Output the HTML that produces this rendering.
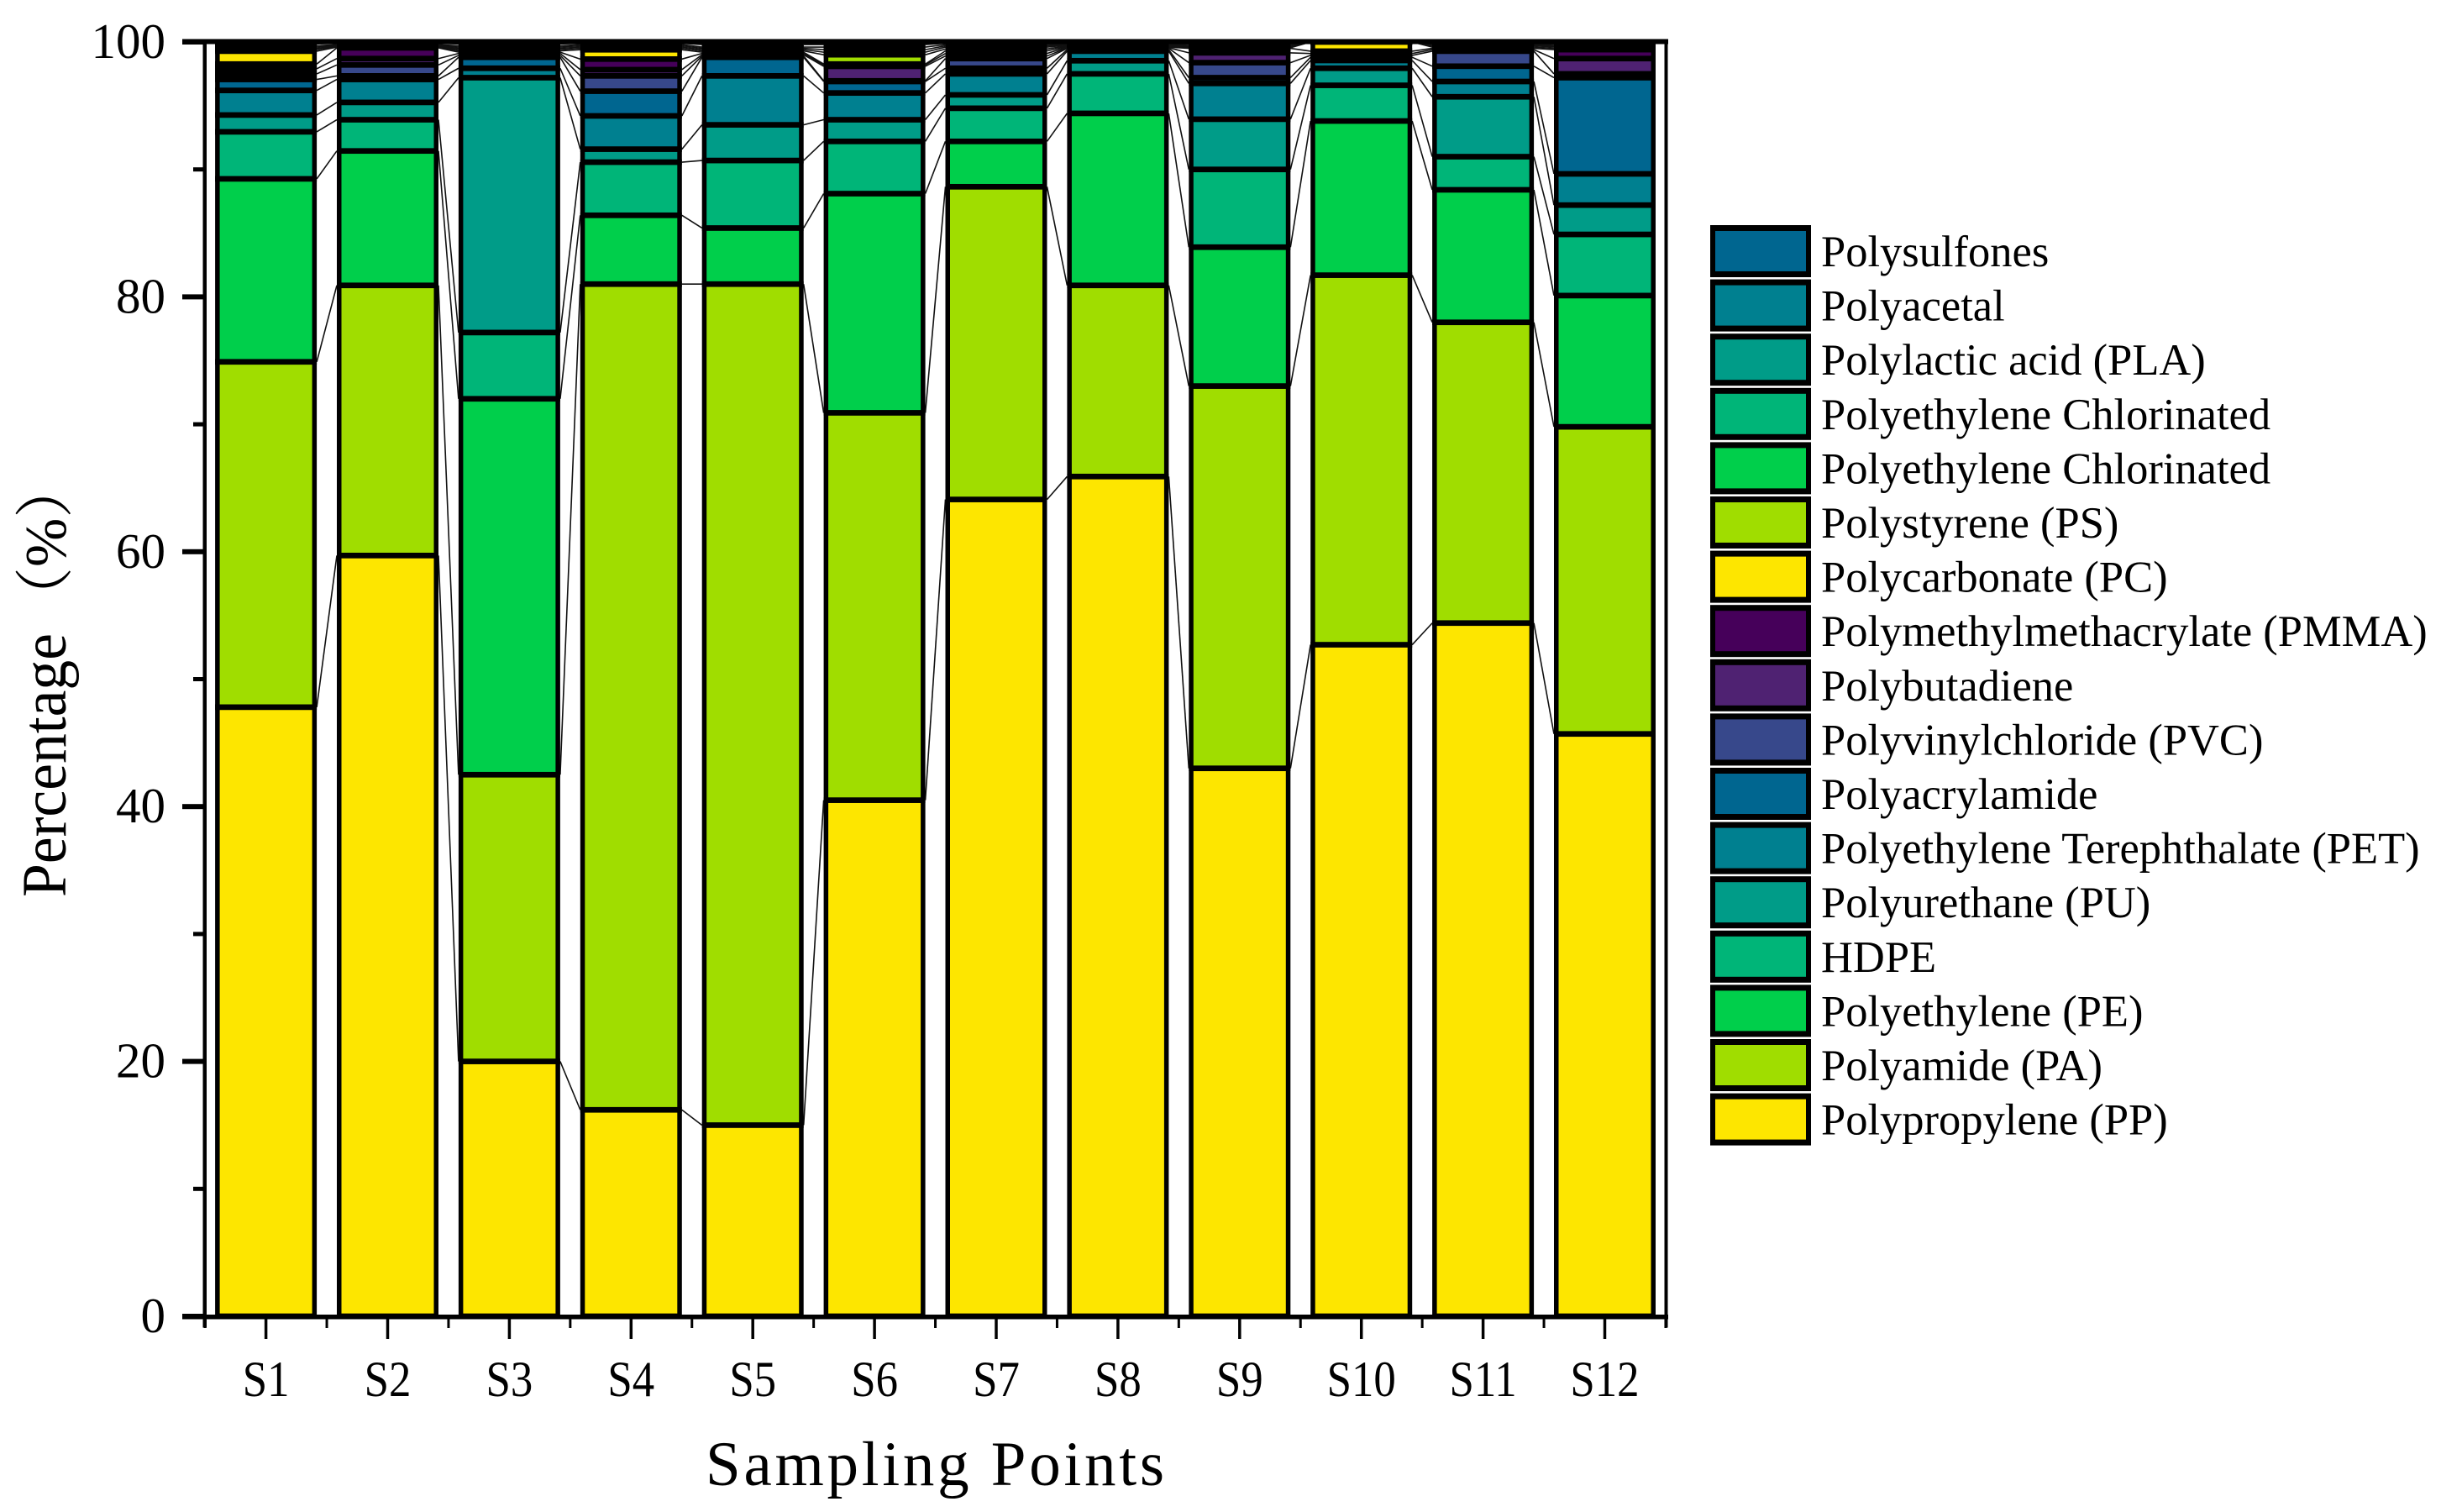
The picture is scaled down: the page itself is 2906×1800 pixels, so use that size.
<!DOCTYPE html>
<html lang="en">
<head>
<meta charset="utf-8">
<title>Polymer composition by sampling point</title>
<style>
html,body{margin:0;padding:0;background:#fff;width:2906px;height:1800px;overflow:hidden}
svg{display:block}
text{font-family:"Liberation Serif","Noto Serif CJK SC",serif;fill:#000}
</style>
</head>
<body>
<svg id="chart" xmlns="http://www.w3.org/2000/svg" width="2906" height="1800" viewBox="0 0 2906 1800">
  <g id="connectors"></g>
  <g id="bars"></g>
  <g id="axes"></g>
  <g id="legend"></g>
  <text x="840" y="1768" font-size="75" textLength="546" lengthAdjust="spacing">Sampling Points</text>
  <text transform="translate(78,1068) rotate(-90)" font-size="75" textLength="314" lengthAdjust="spacingAndGlyphs">Percentage</text>
  <text transform="translate(78,745) rotate(-90)" font-size="70">（%）</text>
</svg>
<script>
const categories = ["S1","S2","S3","S4","S5","S6","S7","S8","S9","S10","S11","S12"];
const yTickLabels = [0,20,40,60,80,100];
const yMinorTicks = [10,30,50,70,90];
const seriesNames = ["Polypropylene (PP)","Polyamide (PA)","Polyethylene (PE)","HDPE","Polyurethane (PU)","Polyethylene Terephthalate (PET)","Polyacrylamide","Polyvinylchloride (PVC)","Polybutadiene","Polymethylmethacrylate (PMMA)","Polycarbonate (PC)","Polystyrene (PS)","Polyethylene Chlorinated","Polyethylene Chlorinated","Polylactic acid (PLA)","Polyacetal","Polysulfones"];
const seriesColors = ["#fde600","#a0dd00","#00cf4b","#00b578","#009c88","#008090","#006690","#37488b","#4f2272","#46005a","#fde600","#a0dd00","#00cf4b","#00b578","#009c88","#008090","#006690"];
const pp   = [47.8,59.7,20,16.2,15,40.5,64.1,65.9,43,52.7,54.4,45.7];
const pa   = [27.1,21.2,22.5,64.8,66,30.4,24.54,15,30,29,23.6,24.1];
const pe   = [14.36,10.55,29.5,5.4,4.4,17.2,3.56,13.5,10.9,12.1,10.4,10.3];
const hdpe = [3.69,2.45,5.2,4.17,5.3,4.1,2.6,3.1,6.1,2.8,2.6,4.8];
const pu   = [1.32,1.36,20,1.02,2.8,1.7,1.05,1.03,3.94,1.34,4.7,2.3];
const pet  = [1.93,1.8,0.74,2.61,3.84,2.1,1.65,0.75,2.81,0.61,1.2,2.45];
const acrylamide = [0.86,0.28,0.86,1.94,1.46,0.9,0.44,0.12,0.45,0.25,1.2,7.55];
const pvc  = [0.44,0.86,0.15,1.2,0.1,0.05,0.76,0.1,1.18,0.15,1.18,0.3];
const butadiene = [0.4,0.5,0.15,0.49,0.1,1.14,0.2,0.05,0.77,0.15,0.12,1.2];
const pmma = [0.37,0.84,0.1,0.83,0.1,0.11,0.2,0.05,0.35,0.18,0.1,0.7];
const pc   = [1.01,0.06,0.1,0.73,0.1,0.07,0.2,0.05,0.05,0.72,0.1,0.1];
const ps   = [0.12,0.05,0.1,0.11,0.1,0.73,0.15,0.05,0.05,0,0.1,0.1];
const pecA = [0.1,0.05,0.1,0.1,0.1,0.2,0.15,0.05,0.05,0,0.05,0.05];
const pecB = [0.1,0.05,0.1,0.1,0.1,0.2,0.1,0.05,0.05,0,0.05,0.05];
const pla  = [0.1,0.05,0.1,0.1,0.1,0.2,0.1,0.05,0.1,0,0.05,0.1];
const polyacetal = [0.15,0.1,0.15,0.1,0.2,0.2,0.1,0.05,0.1,0,0.05,0.1];
const polysulfones = [0.15,0.1,0.15,0.1,0.2,0.2,0.1,0.1,0.1,0,0.1,0.1];
const seriesValues = [pp,pa,pe,hdpe,pu,pet,acrylamide,pvc,butadiene,pmma,pc,ps,pecA,pecB,pla,polyacetal,polysulfones];

const NS = "http://www.w3.org/2000/svg";
const PX0 = 316.6, PXSTEP = 144.9, PY0 = 1567, PYUNIT = 15.17;
const HALF_FILL = 55, HALF_OUT = 60.5, EDGE_Y = 3.35;
function xAxis(i){ return PX0 + PXSTEP * i; }
function yAxis(v){ return PY0 - PYUNIT * v; }
function mk(tag, attrs, parent){
  const el = document.createElementNS(NS, tag);
  for (const k in attrs) el.setAttribute(k, attrs[k]);
  parent.appendChild(el);
  return el;
}
const barsG = document.getElementById("bars");
const connG = document.getElementById("connectors");
const axesG = document.getElementById("axes");
const legendG = document.getElementById("legend");

const cumulative = categories.map((c, i) => {
  let sum = 0;
  return seriesValues.map(s => (sum += s[i]));
});

/* connectors between neighbouring bars */
for (let i = 0; i < categories.length - 1; i++) {
  seriesValues.forEach((s, k) => {
    const ln = mk("line", {x1: xAxis(i) + HALF_OUT, x2: xAxis(i + 1) - HALF_OUT, y1: yAxis(cumulative[i][k]), y2: yAxis(cumulative[i + 1][k]), stroke: "#111", "stroke-width": 1.6}, connG);
    
    
  });
}

/* stacked bars: black outline layer, then colour layer */
categories.forEach((c, i) => {
  const g = mk("g", {}, barsG);
  
  
  seriesValues.forEach((s, k) => {
    const top = yAxis(cumulative[i][k]);
    const bot = yAxis(cumulative[i][k] - s[i]);
    const outline = mk("rect", {x: xAxis(i) - HALF_OUT, width: HALF_OUT * 2, y: top - EDGE_Y, height: bot - top + EDGE_Y * 2, fill: "#000"}, g);
    
    
  });
  seriesValues.forEach((s, k) => {
    const top = yAxis(cumulative[i][k]);
    const bot = yAxis(cumulative[i][k] - s[i]);
    const h = bot - top - EDGE_Y * 2;
    if (h <= 0) return;
    const seg = mk("rect", {x: xAxis(i) - HALF_FILL, width: HALF_FILL * 2, y: top + EDGE_Y, height: h, fill: seriesColors[k]}, g);
    
    
  });
});

/* axis frame */
const leftAxis = mk("rect", {x: 241.5, y: 46.5, width: 4.5, height: 1534, fill: "#000"}, axesG);


const rightAxis = mk("rect", {x: 1981.5, y: 46.5, width: 4, height: 1534, fill: "#000"}, axesG);


const topAxis = mk("rect", {x: 217, y: 46.5, width: 1769, height: 6, fill: "#000"}, axesG);


const bottomAxis = mk("rect", {x: 217, y: 1565, width: 1769, height: 5.5, fill: "#000"}, axesG);



/* y ticks */
yTickLabels.forEach(v => {
  const t = mk("rect", {x: 217, y: yAxis(v) - 3, width: 26, height: 6, fill: "#000"}, axesG);
  
  
  const lab = mk("text", {x: 197, y: yAxis(v) + 19, "font-size": 59, "text-anchor": "end"}, axesG);
  
  
  lab.textContent = v;
});
yMinorTicks.forEach(v => {
  const t = mk("rect", {x: 230, y: yAxis(v) - 2.5, width: 13, height: 5, fill: "#000"}, axesG);
  
  
});

/* x ticks */
categories.forEach((c, i) => {
  const t = mk("rect", {x: xAxis(i) - 1.75, y: 1568, width: 3.5, height: 26, fill: "#000"}, axesG);
  
  
  const lab = mk("text", {transform: "translate(" + xAxis(i) + ",1662) scale(.88,1)", "font-size": 60, "text-anchor": "middle"}, axesG);
  
  
  lab.textContent = c;
});
for (let i = -1; i < categories.length; i++) {
  const t = mk("rect", {x: xAxis(i + 0.5) - 1.5, y: 1568, width: 3, height: 13, fill: "#000"}, axesG);
  
  
}

/* legend, top entry is the last series */
const LEG_TOP = 268, LEG_STEP = 64.6;
for (let k = seriesNames.length - 1, r = 0; k >= 0; k--, r++) {
  const y = LEG_TOP + LEG_STEP * r;
  const entry = mk("g", {}, legendG);
  
  
  const box = mk("rect", {x: 2036, y: y, width: 120, height: 62, fill: "#000"}, entry);
  
  
  const sw = mk("rect", {x: 2042, y: y + 7, width: 108, height: 48, fill: seriesColors[k]}, entry);
  
  
  const tx = mk("text", {x: 2168, y: y + 49, "font-size": 52.5}, entry);
  
  
  tx.textContent = seriesNames[k];
}
</script>
</body>
</html>
